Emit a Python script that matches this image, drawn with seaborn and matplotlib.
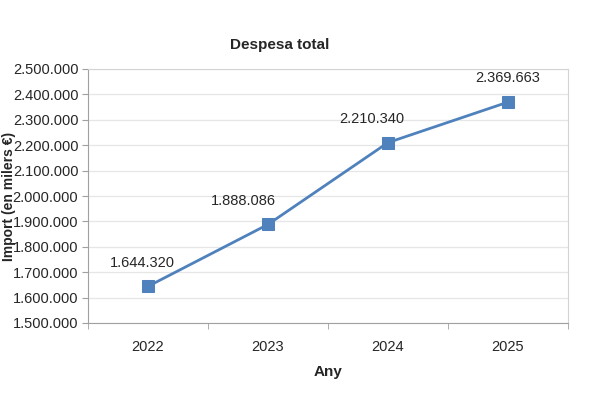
import pandas as pd
import matplotlib
matplotlib.use('Agg')
import matplotlib.pyplot as plt
import seaborn as sns
from matplotlib.ticker import FuncFormatter

# dades
anys = ['2022', '2023', '2024', '2025']
despesa = [1644320, 1888086, 2210340, 2369663]
titol = 'Despesa total'
etiqueta_x = 'Any'
etiqueta_y = 'Import (en milers €)'

df = pd.DataFrame({'Any': anys, 'Despesa': despesa})

sns.set_style('white')
plt.rcParams['font.family'] = ['Liberation Sans', 'DejaVu Sans']

blau = '#4F81BD'

fig = plt.figure(figsize=(6, 4), dpi=100)
ax = fig.add_axes([88 / 600, 77 / 400, 480 / 600, 254 / 400])

sns.lineplot(data=df, x='Any', y='Despesa', ax=ax, color=blau, lw=2,
             marker='s', markersize=8, markeredgecolor=blau, sort=False)


def punts(v, pos):
    return f'{int(v):,}'.replace(',', '.')


ax.set_ylim(1500000, 2500000)
ax.set_yticks(range(1500000, 2500001, 100000))
ax.yaxis.set_major_formatter(FuncFormatter(punts))
ax.set_xlim(-0.5, len(anys) - 0.5)

# marques entre categories
ax.set_xticks([i - 0.5 for i in range(len(anys) + 1)], minor=True)
ax.tick_params(axis='x', which='major', length=0, pad=12, labelsize=10.5)
ax.tick_params(axis='x', which='minor', length=4, color='#A0A0A0', bottom=True)
ax.tick_params(axis='y', length=4, color='#A0A0A0', left=True, labelsize=10.5, pad=3)

ax.grid(axis='y', color='#E6E6E6', lw=0.9)
ax.set_axisbelow(True)
for s in ['left', 'bottom']:
    ax.spines[s].set_color('#A0A0A0')
for s in ['top', 'right']:
    ax.spines[s].set_color('#D4D4D4')

# etiquetes de dades
despl = [-4, -18, -12, 0]
for i, v in enumerate(despesa):
    ax.annotate(punts(v, None), (i, v), xytext=(despl[i], 12),
                textcoords='offset points', ha='center', va='bottom', fontsize=10.5)

ax.set_xlabel(etiqueta_x, fontsize=11, fontweight='bold', labelpad=8)
ax.set_ylabel(etiqueta_y, fontsize=10, fontweight='bold')
ax.yaxis.set_label_coords(-72 / 480, 0.5)
fig.text(280 / 600, 1 - 45 / 400, titol, ha='center', va='center',
         fontsize=11, fontweight='bold')

fig.savefig('out.png', dpi=100)
